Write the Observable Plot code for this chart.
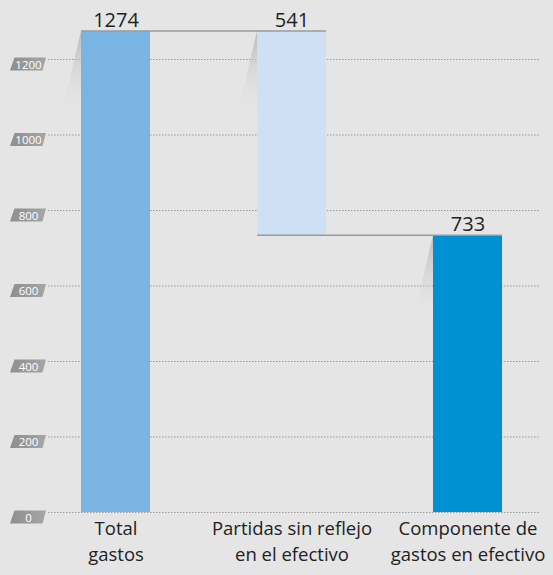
<!DOCTYPE html>
<html><head><meta charset="utf-8">
<script src="https://cdn.jsdelivr.net/npm/d3@7"></script>
<script src="https://cdn.jsdelivr.net/npm/@observablehq/plot@0.6"></script>
<style>html,body{margin:0;padding:0;background:#e5e5e5;}</style>
</head><body><div id="chart"></div>
<script>
const categories = ["Total gastos", "Partidas sin reflejo en el efectivo", "Componente de gastos en efectivo"];
const labelLine1 = ["Total", "Partidas sin reflejo", "Componente de"];
const labelLine2 = ["gastos", "en el efectivo", "gastos en efectivo"];
const values = [1274, 541, 733];
const yTicks = [0, 200, 400, 600, 800, 1000, 1200];
const colors = ["#79b4e3", "#cfe0f5", "#0091d2"];

// waterfall layout: total, decrease from total, remainder
const data = [
  {cat: categories[0], y1: 0, y2: values[0], v: values[0], color: colors[0]},
  {cat: categories[1], y1: values[0] - values[1], y2: values[0], v: values[1], color: colors[1]},
  {cat: categories[2], y1: 0, y2: values[2], v: values[2], color: colors[2]}
];
const connectors = [
  {from: categories[0], to: categories[1], y: values[0]},
  {from: categories[1], to: categories[2], y: values[2]}
];

function bw(sx) { return typeof sx.bandwidth === "function" ? sx.bandwidth() : 0; }

const shadowMark = (index, scales) => {
  const sx = scales.x, sy = scales.y;
  const g = d3.create("svg:g");
  const grad = g.append("defs").append("linearGradient")
    .attr("id", "shade").attr("x1", 0).attr("y1", 0).attr("x2", 0).attr("y2", 1);
  grad.append("stop").attr("offset", 0).attr("stop-color", "#b5b5b5").attr("stop-opacity", 0.9);
  grad.append("stop").attr("offset", 1).attr("stop-color", "#e5e5e5").attr("stop-opacity", 0);
  for (const d of data) {
    const x0 = sx(d.cat), top = sy(d.y2);
    g.append("polygon")
      .attr("points", `${x0},${top} ${x0},${top + 85} ${x0 - 20},${top + 85}`)
      .attr("fill", "url(#shade)");
  }
  return g.node();
};

const connectorMark = (index, scales) => {
  const sx = scales.x, sy = scales.y;
  const g = d3.create("svg:g");
  for (const c of connectors) {
    g.append("line")
      .attr("x1", sx(c.from)).attr("x2", sx(c.to) + bw(sx))
      .attr("y1", sy(c.y)).attr("y2", sy(c.y))
      .attr("stroke", "#9a9a9a").attr("stroke-width", 1.5);
  }
  return g.node();
};

const tickBoxMark = (index, scales) => {
  const sy = scales.y;
  const g = d3.create("svg:g");
  const grad = g.append("defs").append("linearGradient")
    .attr("id", "boxgrad").attr("x1", 0).attr("y1", 0).attr("x2", 1).attr("y2", 0);
  grad.append("stop").attr("offset", 0).attr("stop-color", "#8e8e8e");
  grad.append("stop").attr("offset", 1).attr("stop-color", "#a6a6a6");
  for (const t of yTicks) {
    const y = sy(t);
    g.append("polygon")
      .attr("points", `${14.5},${y - 1.5} ${46},${y - 1.5} ${42.5},${y + 11.5} ${10},${y + 11.5}`)
      .attr("fill", "url(#boxgrad)");
  }
  return g.node();
};

const chart = Plot.plot({
  width: 553,
  height: 575,
  marginLeft: 48,
  marginRight: 14,
  marginTop: 0,
  marginBottom: 63,
  style: {background: "#e5e5e5", fontFamily: "'Open Sans', sans-serif"},
  x: {domain: categories, range: [81, 502], paddingInner: 0.608, paddingOuter: 0, axis: null},
  y: {domain: [0, 1200], range: [512, 59], axis: null},
  marks: [
    Plot.ruleY(yTicks, {stroke: "#9a9a9a", strokeDasharray: "1.5,1.5", strokeWidth: 1}),
    tickBoxMark,
    Plot.text(yTicks, {y: d => d, frameAnchor: "left", textAnchor: "middle", dx: -20, dy: 5.5, text: d => String(d), fill: "white", fontSize: 11.5}),
    shadowMark,
    Plot.barY(data, {x: "cat", y1: "y1", y2: "y2", fill: "color"}),
    connectorMark,
    Plot.text(data, {x: "cat", y: "y2", text: d => String(d.v), lineAnchor: "bottom", dy: -5, fontSize: 20, fill: "#222"}),
    Plot.text(categories, {x: d => d, frameAnchor: "bottom", text: (d, i) => labelLine1[i], lineAnchor: "top", dy: 9.5, fontSize: 18.5, fill: "#222"}),
    Plot.text(categories, {x: d => d, frameAnchor: "bottom", text: (d, i) => labelLine2[i], lineAnchor: "top", dy: 35, fontSize: 18.5, fill: "#222"})
  ]
});
document.getElementById("chart").appendChild(chart);
</script>
</body></html>
